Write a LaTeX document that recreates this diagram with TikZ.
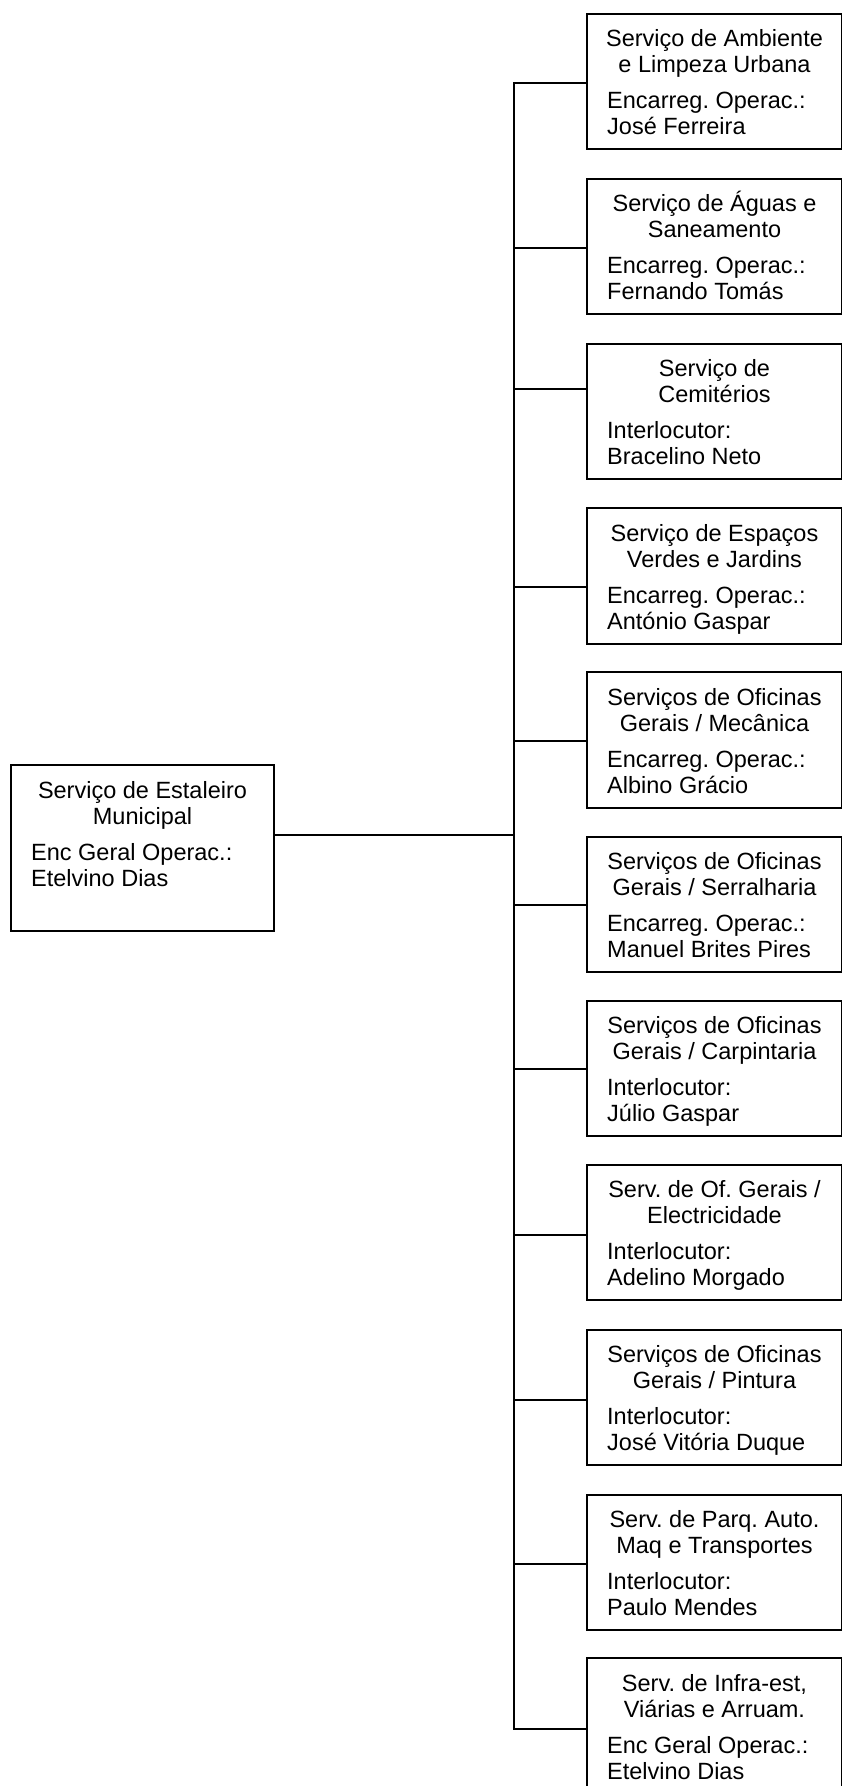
\documentclass[tikz,border=0pt]{standalone}
\usepackage{fontspec}
\setmainfont{Liberation Sans}
\frenchspacing

\tikzset{
  orgbox/.style={draw=black, line width=2pt, fill=white, inner sep=0pt, rectangle},
  txt/.style={inner sep=0pt, font=\fontsize{23.5pt}{25.5pt}\selectfont\frenchspacing},
  titleline/.style={txt, anchor=base},
  nameline/.style={txt, anchor=base west},
  link/.style={draw=black, line width=2pt, line cap=rect}
}

% #1 node name, #2 left, #3 top, #4 width, #5 height,
% #6/#7 centred title lines, #8/#9 role and person (left aligned)
\newcommand\unitbox[9]{%
  \node[orgbox, minimum width=#4pt, minimum height=#5pt, anchor=north west] (#1) at (#2,#3) {};
  \node[titleline] (#1-t1) at ([yshift=-34pt]#1.north) {#6};
  \node[titleline] (#1-t2) at ([yshift=-60pt]#1.north) {#7};
  \node[nameline] (#1-n1) at ([xshift=21pt,yshift=-96pt]#1.north west) {#8};
  \node[nameline] (#1-n2) at ([xshift=21pt,yshift=-122pt]#1.north west) {#9};
}

\begin{document}
\begin{tikzpicture}[x=1pt, y=-1pt]
  \useasboundingbox[fill=white] (0,0) rectangle (842,1786);

  % head of the unit
  \unitbox{main}{10}{764}{263}{166}{Serviço de Estaleiro}{Municipal}{Enc Geral Operac.:}{Etelvino Dias}

  % subordinate services
  \unitbox{r1}{586}{12.6}{255}{135.5}{Serviço de Ambiente}{e Limpeza Urbana}{Encarreg. Operac.:}{José Ferreira}
  \unitbox{r2}{586}{177.9}{255}{135.5}{Serviço de Águas e}{Saneamento}{Encarreg. Operac.:}{Fernando Tomás}
  \unitbox{r3}{586}{342.5}{255}{135.5}{Serviço de}{Cemitérios}{Interlocutor:}{Bracelino Neto}
  \unitbox{r4}{586}{507}{255}{135.5}{Serviço de Espaços}{Verdes e Jardins}{Encarreg. Operac.:}{António Gaspar}
  \unitbox{r5}{586}{671}{255}{135.5}{Serviços de Oficinas}{Gerais / Mecânica}{Encarreg. Operac.:}{Albino Grácio}
  \unitbox{r6}{586}{835.6}{255}{135.5}{Serviços de Oficinas}{Gerais / Serralharia}{Encarreg. Operac.:}{Manuel Brites Pires}
  \unitbox{r7}{586}{999.8}{255}{135.5}{Serviços de Oficinas}{Gerais / Carpintaria}{Interlocutor:}{Júlio Gaspar}
  \unitbox{r8}{586}{1163.6}{255}{135.5}{Serv. de Of. Gerais /}{Electricidade}{Interlocutor:}{Adelino Morgado}
  \unitbox{r9}{586}{1328.8}{255}{135.5}{Serviços de Oficinas}{Gerais / Pintura}{Interlocutor:}{José Vitória Duque}
  \unitbox{r10}{586}{1493.8}{255}{135.5}{Serv. de Parq. Auto.}{Maq e Transportes}{Interlocutor:}{Paulo Mendes}
  \unitbox{r11}{586}{1657.3}{255}{135.5}{Serv. de Infra-est,}{Viárias e Arruam.}{Enc Geral Operac.:}{Etelvino Dias}

  % vertical bus
  \coordinate (bustop) at (514,83);
  \coordinate (busbot) at (514,1729);
  \draw[link] (bustop) -- (busbot);

  % head to bus
  \draw[link] ([yshift=-71pt]main.north east) -- ([yshift=-71pt]main.north east -| bustop);

  % bus to each service
  \foreach \n/\o in {r1/70.4, r2/70, r3/46, r4/80.4, r5/69.7, r6/69.7, r7/69.2, r8/71.3, r9/70.7, r10/70, r11/71.5}
    \draw[link] ([yshift=-\o pt]\n.north west -| bustop) -- ([yshift=-\o pt]\n.north west);
\end{tikzpicture}
\end{document}
